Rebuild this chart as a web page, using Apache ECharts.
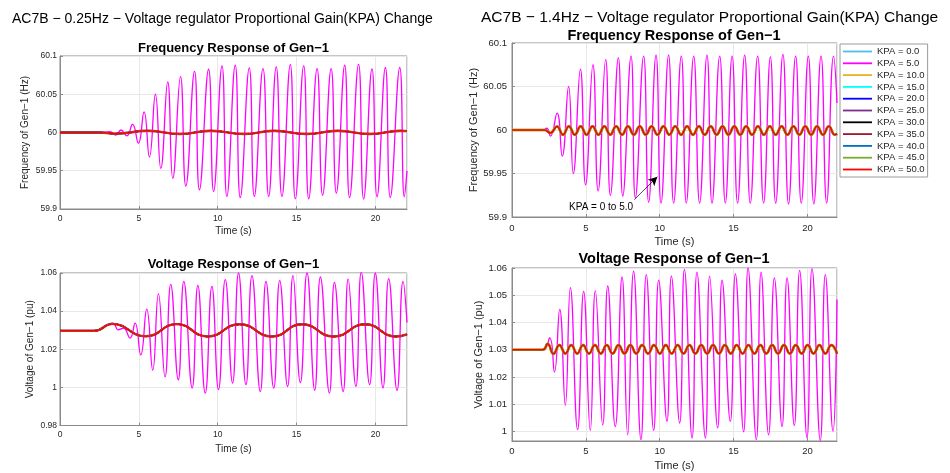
<!DOCTYPE html>
<html>
<head>
<meta charset="utf-8">
<script src="https://cdn.jsdelivr.net/npm/echarts@6/dist/echarts.min.js"></script>
<style>html,body{margin:0;padding:0;background:#fff}#c{width:950px;height:473px}</style>
</head>
<body>
<div id="c"></div>
<script>
// ---------- DATA ----------
const kpaNames = ['KPA = 0.0','KPA = 5.0','KPA = 10.0','KPA = 15.0','KPA = 20.0','KPA = 25.0','KPA = 30.0','KPA = 35.0','KPA = 40.0','KPA = 45.0','KPA = 50.0'];
const kpaColors = ['#4DBEEE','#FF00FF','#EDB120','#00FFFF','#0000FF','#7E2F8E','#000000','#A2142F','#0072BD','#77AC30','#FF0000'];
const xTicks = [0,5,10,15,20];

// left panels: 0.25 Hz case   [time (s), value]
const leftFreqUnstable = [[0,60],[2.5,60],[3.17,60.001],[3.54,59.9967],[3.87,60.0033],[4.24,59.9955],[4.6,60.0107],[4.97,59.986],[5.33,60.027],[5.67,59.968],[6.05,60.05],[6.39,59.953],[6.83,60.066],[7.15,59.94],[7.64,60.073],[7.98,59.93],[8.53,60.08],[8.84,59.925],[9.42,60.0827],[9.74,59.923],[10.27,60.087],[10.58,59.9164],[11.11,60.0879],[11.43,59.915],[12.0,60.0844],[12.32,59.9164],[12.87,60.0836],[13.23,59.9164],[13.71,60.0857],[14.07,59.9164],[14.6,60.0888],[14.92,59.9134],[15.45,60.087],[15.77,59.9134],[16.3,60.0836],[16.65,59.918],[17.19,60.0836],[17.52,59.9208],[18.05,60.0879],[18.36,59.915],[18.93,60.089],[19.25,59.913],[19.78,60.083],[20.1,59.916],[20.63,60.085],[20.94,59.915],[21.54,60.085],[21.83,59.916],[22,59.95]];
const leftFreqStable = [[0,60],[2.5,60],[3.5,59.9985],[5.6,60.0022],[7.6,59.998],[9.55,60.0022],[11.7,59.998],[13.55,60.0022],[15.65,59.998],[17.6,60.0022],[19.65,59.998],[21.6,60.0022],[22,60.0018]];
const leftVoltUnstable = [[0,1.0297],[2.2,1.0297],[3.35,1.0337],[3.7,1.0302],[4.02,1.0311],[4.44,1.0259],[4.76,1.0337],[5.12,1.017],[5.5,1.041],[5.88,1.009],[6.24,1.049],[6.66,1.0055],[7.02,1.054],[7.5,1.004],[7.85,1.0556],[8.38,0.9997],[8.74,1.0535],[9.21,0.997],[9.63,1.053],[10.05,0.9988],[10.48,1.0565],[10.94,1.0023],[11.32,1.06],[11.79,1.0014],[12.17,1.0586],[12.7,0.9978],[13.06,1.0556],[13.55,0.9996],[13.93,1.056],[14.43,1.0005],[14.77,1.0586],[15.24,1.0025],[15.66,1.06],[16.15,0.9985],[16.51,1.0579],[17.08,0.997],[17.4,1.0551],[17.95,0.9978],[18.27,1.0568],[18.76,1.0005],[19.1,1.0605],[19.63,1.0014],[19.99,1.06],[20.48,0.9997],[20.84,1.057],[21.37,0.9984],[21.75,1.0556],[22,1.034]];
const leftVoltStable = [[0,1.0297],[2.2,1.0297],[3.3,1.0333],[5.45,1.0268],[7.4,1.0332],[9.35,1.0267],[11.39,1.0331],[13.44,1.0267],[15.34,1.0331],[17.35,1.0267],[19.35,1.0331],[21.3,1.0267],[22,1.0278]];

// right panels: 1.4 Hz case
const rightFreqUnstable = [[0,60],[2.1,60],[2.35,60.002],[2.6,59.993],[3.05,60.0195],[3.4,59.97],[3.83,60.05],[4.15,59.95],[4.63,60.07],[4.98,59.937],[5.48,60.075],[5.83,59.93],[6.34,60.081],[6.66,59.925],[7.2,60.083],[7.5,59.924],[8.06,60.085],[8.35,59.922],[8.91,60.085],[9.25,59.917],[9.75,60.086],[10.09,59.916],[10.6,60.086],[10.94,59.916],[11.46,60.085],[11.8,59.916],[12.3,60.085],[12.7,59.916],[13.2,60.086],[13.54,59.916],[14.06,60.085],[14.44,59.916],[14.9,60.085],[15.27,59.916],[15.75,60.086],[16.13,59.916],[16.63,60.085],[17.03,59.916],[17.49,60.084],[17.85,59.916],[18.34,60.087],[18.72,59.915],[19.2,60.085],[19.58,59.916],[20.06,60.085],[20.43,59.915],[20.92,60.085],[21.3,59.916],[21.77,60.085],[22,60.031]];
const rightFreqStable = [[0,60],[2.2,60],[2.6,59.9966],[3.05,60.0041],[3.45,59.9946],[3.85,60.0042],[4.25,59.9946],[4.65,60.0042],[5.05,59.9946],[5.45,60.0042],[5.85,59.9946],[6.25,60.0042],[6.65,59.9946],[7.05,60.0042],[7.45,59.9946],[7.85,60.0042],[8.25,59.9946],[8.65,60.0042],[9.05,59.9946],[9.45,60.0042],[9.85,59.9946],[10.25,60.0042],[10.65,59.9946],[11.05,60.0042],[11.45,59.9946],[11.85,60.0042],[12.25,59.9946],[12.65,60.0042],[13.05,59.9946],[13.45,60.0042],[13.85,59.9946],[14.25,60.0042],[14.65,59.9946],[15.05,60.0042],[15.45,59.9946],[15.85,60.0042],[16.25,59.9946],[16.65,60.0042],[17.05,59.9946],[17.45,60.0042],[17.85,59.9946],[18.25,60.0042],[18.65,59.9946],[19.05,60.0042],[19.45,59.9946],[19.85,60.0042],[20.25,59.9946],[20.65,60.0042],[21.05,59.9946],[21.45,60.0042],[21.85,59.9946],[22,59.9955]];
const rightVoltUnstable = [[0,1.03],[2.1,1.03],[2.55,1.0343],[2.87,1.0218],[3.23,1.0448],[3.61,1.0096],[3.95,1.0528],[4.44,1.0007],[4.85,1.0514],[5.3,1.0004],[5.64,1.0516],[6.14,1.0024],[6.48,1.0534],[6.99,1.0018],[7.45,1.0567],[7.83,0.9988],[8.23,1.0588],[8.73,0.997],[9.09,1.0576],[9.59,1.0004],[9.93,1.0555],[10.49,1.0037],[10.79,1.057],[11.35,1.0031],[11.67,1.0595],[12.19,0.9976],[12.52,1.0585],[13.09,0.9976],[13.38,1.057],[13.92,1.0013],[14.22,1.0555],[14.78,1.0037],[15.12,1.0578],[15.68,0.9999],[15.98,1.06],[16.54,0.997],[16.86,1.0585],[17.37,0.9988],[17.76,1.0564],[18.28,1.0018],[18.62,1.0564],[19.11,1.0022],[19.47,1.0591],[19.97,0.9977],[20.31,1.0598],[20.87,0.9967],[21.21,1.0576],[21.73,1.0001],[22,1.0484]];
const rightVoltStable = [[0,1.03],[2.1,1.03],[2.41,1.0322],[2.81,1.0285],[3.21,1.0317],[3.61,1.0286],[4.01,1.0317],[4.41,1.0286],[4.81,1.0317],[5.21,1.0286],[5.61,1.0317],[6.01,1.0286],[6.41,1.0317],[6.81,1.0286],[7.21,1.0317],[7.61,1.0286],[8.01,1.0317],[8.41,1.0286],[8.81,1.0317],[9.21,1.0286],[9.61,1.0317],[10.01,1.0286],[10.41,1.0317],[10.81,1.0286],[11.21,1.0317],[11.61,1.0286],[12.01,1.0317],[12.41,1.0286],[12.81,1.0317],[13.21,1.0286],[13.61,1.0317],[14.01,1.0286],[14.41,1.0317],[14.81,1.0286],[15.21,1.0317],[15.61,1.0286],[16.01,1.0317],[16.41,1.0286],[16.81,1.0317],[17.21,1.0286],[17.61,1.0317],[18.01,1.0286],[18.41,1.0317],[18.81,1.0286],[19.21,1.0317],[19.61,1.0286],[20.01,1.0317],[20.41,1.0286],[20.81,1.0317],[21.21,1.0286],[21.61,1.0317],[22,1.0286]];
const rightVoltTicks = [1,1.01,1.02,1.03,1.04,1.05,1.06];

// annotation (data coordinates of the right frequency panel)
const annotText = 'KPA = 0 to 5.0';
const annotTextAt = [6.03, 59.9113];
const annotArrowFrom = [8.28, 59.92];
const annotArrowTo = [9.84, 59.9463];

// ---------- CHART ----------
const FONT = '"Liberation Sans", Arial, Helvetica, sans-serif';
const TXT = '#262626';
const BOX = '#8a8a8a';
const GRIDC = '#e8e8e8';

const grids = [
  {left:60, top:56, width:347, height:153},
  {left:60, top:273, width:347, height:152.5},
  {left:512, top:43, width:325, height:174},
  {left:512, top:268, width:325, height:173}
].map(g => Object.assign({show:true, borderColor:BOX, borderWidth:1, backgroundColor:'#fff'}, g));

function xAx(i, fs, nameFs, gap, margin){
  return {gridIndex:i, type:'value', min:0, max:22, interval:5,
    name:'Time (s)', nameLocation:'middle', nameGap:gap,
    nameTextStyle:{fontFamily:FONT, fontSize:nameFs, color:TXT},
    axisLine:{show:true, lineStyle:{color:BOX}},
    axisTick:{show:true, inside:true, length:3, lineStyle:{color:BOX}},
    axisLabel:{fontFamily:FONT, fontSize:fs, color:TXT, margin:margin, showMaxLabel:false},
    splitLine:{show:true, lineStyle:{color:GRIDC, width:1}}};
}
function yAx(i, name, min, max, interval, fs, nameFs, gap, margin, custom){
  const a = {gridIndex:i, type:'value', min:min, max:max,
    name:name, nameLocation:'middle', nameGap:gap,
    nameTextStyle:{fontFamily:FONT, fontSize:nameFs, color:TXT},
    axisLine:{show:true, lineStyle:{color:BOX}},
    axisTick:{show:true, inside:true, length:3, lineStyle:{color:BOX}},
    axisLabel:{fontFamily:FONT, fontSize:fs, color:TXT, margin:margin},
    splitLine:{show:true, lineStyle:{color:GRIDC, width:1}}};
  if (interval) a.interval = interval;
  if (custom){ a.axisLabel.customValues = custom; a.axisTick.customValues = custom; }
  return a;
}

const xAxes = [xAx(0,8.5,10,17,5), xAx(1,8.5,10,18.5,5), xAx(2,9.5,11,19,6), xAx(3,9.5,11,19.5,5.5)];
const yAxes = [
  yAx(0,'Frequency of Gen\u22121 (Hz)',59.9,60.1,0.05,8.5,10,30,3),
  yAx(1,'Voltage of Gen\u22121 (pu)',0.98,1.06,0.02,8.5,10,25,3),
  yAx(2,'Frequency of Gen\u22121 (Hz)',59.9,60.1,0.05,9.5,11,31,5),
  yAx(3,'Voltage of Gen\u22121 (pu)',0.9965,1.06,null,9.5,11,28,5,rightVoltTicks)
];

const panels = [
  {u:leftFreqUnstable, s:leftFreqStable, right:false},
  {u:leftVoltUnstable, s:leftVoltStable, right:false},
  {u:rightFreqUnstable, s:rightFreqStable, right:true},
  {u:rightVoltUnstable, s:rightVoltStable, right:true}
];

function lineWidth(k, right){
  if (k === 0) return 0.6;
  if (k === 1) return 1.3;
  if (k === 10) return 1.5;
  if (right) return (k === 9 || k === 2) ? 2.6 : 1.4;
  return k === 7 ? 2.4 : 1.4;
}

const series = [];
panels.forEach((p, gi) => {
  kpaNames.forEach((nm, k) => {
    const s = {
      name:nm, type:'line', xAxisIndex:gi, yAxisIndex:gi,
      data: k < 2 ? p.u : p.s,
      smooth:0.5, symbol:'none', showSymbol:false, clip:true,
      lineStyle:{color:kpaColors[k], width:lineWidth(k, p.right), opacity: k === 0 ? 0 : 1},
      itemStyle:{color:kpaColors[k]},
      emphasis:{disabled:true}, silent:true, z:2
    };
    if (gi === 2 && k === 10){
      s.markLine = {silent:true, symbol:['none','arrow'], symbolSize:[7,9],
        lineStyle:{color:'#000', width:0.7, type:'solid', opacity:1}, label:{show:false},
        data:[[{coord:annotArrowFrom},{coord:annotArrowTo}]]};
      s.markPoint = {silent:true, symbol:'circle', symbolSize:0,
        data:[{coord:annotTextAt, label:{show:true, position:'inside', formatter:annotText,
          fontFamily:FONT, fontSize:10, color:'#000'}}]};
    }
    series.push(s);
  });
});

function txt(x, y, text, size, weight, align){
  return {type:'text', x:x, y:y, silent:true, z:100,
    style:{text:text, fontFamily:FONT, fontSize:size, fontWeight:weight||'normal',
      fill:'#000', align:align||'center', verticalAlign:'middle'}};
}

const option = {
  animation:false,
  backgroundColor:'#fff',
  grid:grids, xAxis:xAxes, yAxis:yAxes, series:series,
  legend:{data:kpaNames.map((n, k) => ({name:n, icon:'rect', itemStyle:{color:kpaColors[k], opacity:1}})),
    orient:'vertical', left:840, top:44,
    itemWidth:29, itemHeight:1.8, itemGap:0.8, padding:[2,3,2,3],
    borderColor:'#9a9a9a', borderWidth:1, backgroundColor:'#fff',
    textStyle:{fontFamily:FONT, fontSize:9.5, color:TXT, lineHeight:11},
    selectedMode:false},
  graphic:[
    txt(12, 19, 'AC7B \u2212 0.25Hz \u2212 Voltage regulator Proportional Gain(KPA) Change', 14, 'normal', 'left'),
    txt(481, 18, 'AC7B \u2212 1.4Hz \u2212 Voltage regulator Proportional Gain(KPA) Change', 15.5, 'normal', 'left'),
    txt(233.5, 48, 'Frequency Response of Gen\u22121', 13, 'bold'),
    txt(233.5, 264, 'Voltage Response of Gen\u22121', 13, 'bold'),
    txt(674, 35.5, 'Frequency Response of Gen\u22121', 14.5, 'bold'),
    txt(674, 259, 'Voltage Response of Gen\u22121', 14.5, 'bold')
  ]
};

const chart = echarts.init(document.getElementById('c'), null, {renderer:'canvas'});
chart.setOption(option);
</script>
</body>
</html>
